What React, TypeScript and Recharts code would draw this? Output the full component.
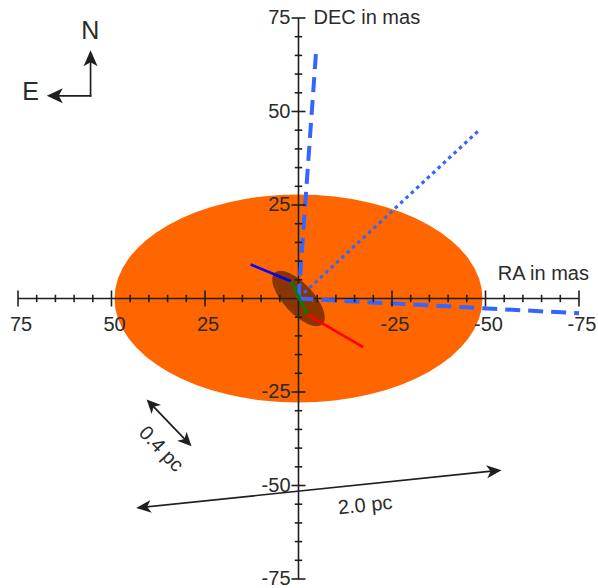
import React from 'react';
import {
  ComposedChart,
  XAxis,
  YAxis,
  Line,
  Scatter,
  ReferenceArea,
  ReferenceLine,
  ReferenceDot,
} from 'recharts';

// ---- Axis ticks (mas) ----
const raTicks = [75, 70, 65, 60, 55, 50, 45, 40, 35, 30, 25, 20, 15, 10, 5, -5, -10, -15, -20, -25, -30, -35, -40, -45, -50, -55, -60, -65, -70, -75];
const decTicks = [75, 70, 65, 60, 55, 50, 45, 40, 35, 30, 25, 20, 15, 10, 5, -5, -10, -15, -20, -25, -30, -35, -40, -45, -50, -55, -60, -65, -70, -75];
const majorTickValues = [75, 50, 25, -25, -50, -75];
const majorTickLabels = ['75', '50', '25', '-25', '-50', '-75'];

// ---- Ellipses (mas) ----
const outerEllipse = { ra: 0, dec: 0, semiRa: 49.2, semiDec: 27.8 };
const innerEllipse = { ra: 0, dec: 0, semiMajor: 9.4, semiMinor: 4.0, tiltDeg: 47 };

// ---- Line segments (RA, DEC in mas) ----
const blueSegment = [{ x: 12.8, y: 9.1 }, { x: 2.0, y: 4.6 }];
const greenSegment = [{ x: 2.0, y: 4.6 }, { x: -2.35, y: -4.3 }];
const redSegment = [{ x: -2.35, y: -4.3 }, { x: -17.3, y: -13.0 }];
const dashedNorth = [{ x: 0, y: 0 }, { x: -4.8, y: 67.4 }];
const dashedWest = [{ x: 0, y: 0 }, { x: -75, y: -3.95 }];
const dottedDiagonal = [{ x: -1.5, y: 1.5 }, { x: -48.5, y: 45.2 }];

// ---- Annotations (mas) ----
const compassCorner = { x: 55.6, y: 54.2 };
const compassNorthTip = { x: 55.6, y: 66.4 };
const compassEastTip = { x: 67.3, y: 54.2 };
const scale04 = [{ x: 40.6, y: -27.0 }, { x: 28.6, y: -39.5 }];
const scale20 = [{ x: 43.4, y: -56.0 }, { x: -54.3, y: -45.9 }];
const textLabels = [
  { x: 55.7, y: 71.7, text: 'N', size: 25, anchor: 'middle', rotate: 0 },
  { x: 71.6, y: 55.4, text: 'E', size: 25, anchor: 'middle', rotate: 0 },
  { x: -4.0, y: 75.3, text: 'DEC in mas', size: 20, anchor: 'start', rotate: 0 },
  { x: -53.3, y: 6.8, text: 'RA in mas', size: 20, anchor: 'start', rotate: 0 },
  { x: 36.6, y: -40.1, text: '0.4 pc', size: 20, anchor: 'middle', rotate: 46 },
  { x: -17.8, y: -55.1, text: '2.0 pc', size: 20, anchor: 'middle', rotate: -6 },
];

const FONT = '"Liberation Sans", Arial, Helvetica, sans-serif';
const INK = '#1f1f1f';
const TEXT = '#2b2b2b';
const DASH_BLUE = '#3366ff';

const headPath = (tx: number, ty: number, ux: number, uy: number, len: number, half: number, notch: number) => {
  const bx = tx - ux * len;
  const by = ty - uy * len;
  const px = -uy;
  const py = ux;
  const nx = tx - ux * (len - notch);
  const ny = ty - uy * (len - notch);
  return `M${tx},${ty} L${bx + px * half},${by + py * half} L${nx},${ny} L${bx - px * half},${by - py * half} Z`;
};

const makeArrow = (both: boolean, len: number, half: number, notch: number) => (p: any) => {
  const { x1, y1, x2, y2 } = p;
  if ([x1, y1, x2, y2].some((v) => typeof v !== 'number' || isNaN(v))) return <g />;
  const dx = x2 - x1;
  const dy = y2 - y1;
  const L = Math.sqrt(dx * dx + dy * dy) || 1;
  const ux = dx / L;
  const uy = dy / L;
  const sx = both ? x1 + ux * (len - notch) : x1;
  const sy = both ? y1 + uy * (len - notch) : y1;
  const ex = x2 - ux * (len - notch);
  const ey = y2 - uy * (len - notch);
  return (
    <g>
      <line x1={sx} y1={sy} x2={ex} y2={ey} stroke={INK} strokeWidth={1.7} strokeLinecap="square" />
      <path d={headPath(x2, y2, ux, uy, len, half, notch)} fill={INK} />
      {both && <path d={headPath(x1, y1, -ux, -uy, len, half, notch)} fill={INK} />}
    </g>
  );
};

const OuterEllipseShape = (p: any) => {
  const { x, y, width, height } = p;
  return <ellipse cx={x + width / 2} cy={y + height / 2} rx={Math.abs(width) / 2} ry={Math.abs(height) / 2} fill="#ff6600" />;
};

const InnerEllipseShape = (p: any) => {
  const { x, y, width, height } = p;
  const cx = x + width / 2;
  const cy = y + height / 2;
  return (
    <ellipse
      cx={cx}
      cy={cy}
      rx={Math.abs(width) / 2}
      ry={Math.abs(height) / 2}
      fill="#8a3500"
      transform={`rotate(${innerEllipse.tiltDeg} ${cx} ${cy})`}
    />
  );
};

const RaTickShape = (p: any) => {
  const { cx, cy, payload } = p;
  const idx = majorTickValues.indexOf(payload.x);
  const major = idx >= 0;
  const h = major ? 8 : 3.7;
  return (
    <g>
      <line x1={cx} x2={cx} y1={cy - h} y2={cy + h} stroke={INK} strokeWidth={1.6} />
      {major && (
        <text x={cx + 3} y={cy + 25} dy="0.35em" textAnchor="middle" fontSize={20} fontFamily={FONT} fill={TEXT}>
          {majorTickLabels[idx]}
        </text>
      )}
    </g>
  );
};

const DecTickShape = (p: any) => {
  const { cx, cy, payload } = p;
  const idx = majorTickValues.indexOf(payload.y);
  const major = idx >= 0;
  const w = major ? 7 : 3.7;
  return (
    <g>
      <line x1={cx - w} x2={cx + w} y1={cy} y2={cy} stroke={INK} strokeWidth={1.6} />
      {major && (
        <text x={cx - 8} y={cy} dy="0.3em" textAnchor="end" fontSize={20} fontFamily={FONT} fill={TEXT}>
          {majorTickLabels[idx]}
        </text>
      )}
    </g>
  );
};

const makeTextShape = (t: any) => (p: any) => {
  const { cx, cy } = p;
  return (
    <text
      x={cx}
      y={cy}
      dy="0.35em"
      textAnchor={t.anchor}
      fontSize={t.size}
      fontFamily={FONT}
      fill={TEXT}
      transform={t.rotate ? `rotate(${t.rotate} ${cx} ${cy})` : undefined}
    >
      {t.text}
    </text>
  );
};

const raTickData = raTicks.map((v) => ({ x: v, y: 0 }));
const decTickData = decTicks.map((v) => ({ x: 0, y: v }));

export default function App() {
  return (
    <div style={{ position: 'absolute', left: 0, top: 0, width: 598, height: 588, background: '#fff' }}>
      <ComposedChart width={598} height={588} margin={{ top: 18, right: 19, bottom: 9, left: 18 }}>
        <XAxis dataKey="x" type="number" domain={[-75, 75]} reversed hide />
        <YAxis dataKey="y" type="number" domain={[-75, 75]} hide />

        <ReferenceArea
          x1={outerEllipse.ra - outerEllipse.semiRa}
          x2={outerEllipse.ra + outerEllipse.semiRa}
          y1={outerEllipse.dec - outerEllipse.semiDec}
          y2={outerEllipse.dec + outerEllipse.semiDec}
          shape={OuterEllipseShape}
          ifOverflow="visible"
        />
        <ReferenceArea
          x1={innerEllipse.ra - innerEllipse.semiMajor}
          x2={innerEllipse.ra + innerEllipse.semiMajor}
          y1={innerEllipse.dec - innerEllipse.semiMinor}
          y2={innerEllipse.dec + innerEllipse.semiMinor}
          shape={InnerEllipseShape}
          ifOverflow="visible"
        />

        <ReferenceLine y={0} stroke={INK} strokeWidth={1.6} ifOverflow="visible" />
        <ReferenceLine x={0} stroke={INK} strokeWidth={1.6} ifOverflow="visible" />

        <Scatter data={raTickData} shape={RaTickShape} isAnimationActive={false} />
        <Scatter data={decTickData} shape={DecTickShape} isAnimationActive={false} />

        <Line data={dashedNorth} dataKey="y" type="linear" stroke={DASH_BLUE} strokeWidth={4} strokeDasharray="15 8" dot={false} activeDot={false} isAnimationActive={false} />
        <Line data={dashedWest} dataKey="y" type="linear" stroke={DASH_BLUE} strokeWidth={4} strokeDasharray="15 8" dot={false} activeDot={false} isAnimationActive={false} />
        <Line data={dottedDiagonal} dataKey="y" type="linear" stroke={DASH_BLUE} strokeWidth={3.2} strokeDasharray="3.5 3.8" dot={false} activeDot={false} isAnimationActive={false} />

        <Line data={blueSegment} dataKey="y" type="linear" stroke="#0000ff" strokeWidth={2.6} dot={false} activeDot={false} isAnimationActive={false} />
        <Line data={greenSegment} dataKey="y" type="linear" stroke="#008000" strokeWidth={2.6} dot={false} activeDot={false} isAnimationActive={false} />
        <Line data={redSegment} dataKey="y" type="linear" stroke="#ff0000" strokeWidth={2.6} dot={false} activeDot={false} isAnimationActive={false} />

        <ReferenceLine segment={[compassCorner, compassNorthTip]} shape={makeArrow(false, 16, 7, 4)} ifOverflow="visible" />
        <ReferenceLine segment={[compassCorner, compassEastTip]} shape={makeArrow(false, 16, 7.5, 4)} ifOverflow="visible" />
        <ReferenceLine segment={[scale04[0], scale04[1]]} shape={makeArrow(true, 14, 6.5, 4)} ifOverflow="visible" />
        <ReferenceLine segment={[scale20[0], scale20[1]]} shape={makeArrow(true, 15, 6.5, 4)} ifOverflow="visible" />

        {textLabels.map((t) => (
          <ReferenceDot key={t.text} x={t.x} y={t.y} r={0} ifOverflow="visible" shape={makeTextShape(t)} />
        ))}
      </ComposedChart>
    </div>
  );
}
